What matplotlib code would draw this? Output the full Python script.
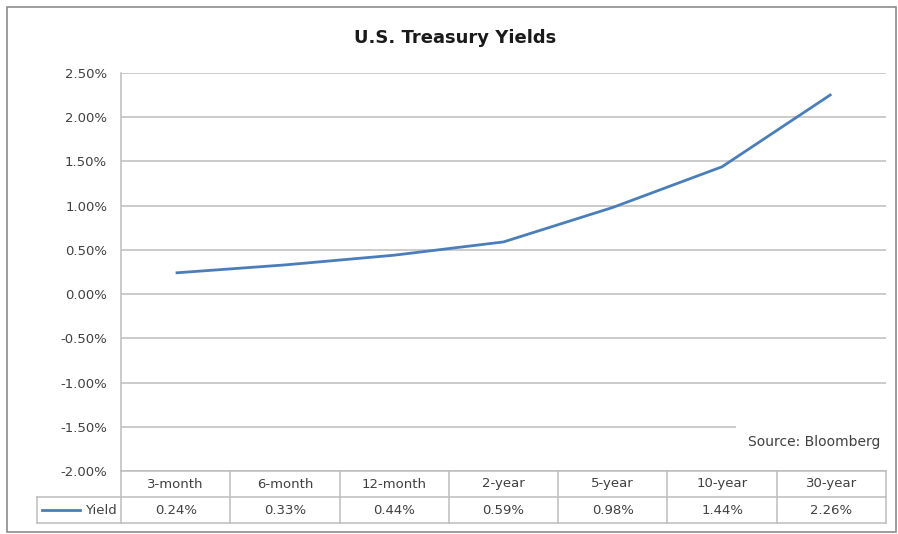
import matplotlib
matplotlib.use("Agg")
import matplotlib.pyplot as plt
from matplotlib.patches import Rectangle
from matplotlib.lines import Line2D

categories = ["3-month", "6-month", "12-month", "2-year", "5-year", "10-year", "30-year"]
yields = [0.24, 0.33, 0.44, 0.59, 0.98, 1.44, 2.26]
yticks = [-2.0, -1.5, -1.0, -0.5, 0.0, 0.5, 1.0, 1.5, 2.0, 2.5]
series_name = "Yield"
title = "U.S. Treasury Yields"
source = "Source: Bloomberg"

plt.rcParams['font.family'] = ['DejaVu Sans']
W, H = 898, 534
fig = plt.figure(figsize=(W / 100, H / 100), dpi=100)

def fx(px):
    return px / W

def fy(py):
    return 1 - py / H

# outer border
fig.add_artist(Rectangle((fx(7), fy(532)), fx(889), 525 / H, transform=fig.transFigure,
                         fill=False, edgecolor="#8c8c8c", linewidth=1.2))

left, right, top, bottom = 121, 886, 73, 471
ax = fig.add_axes([fx(left), fy(bottom), fx(right - left), (bottom - top) / H])
ax.set_xlim(-0.5, len(categories) - 0.5)
ax.set_ylim(-2.0, 2.5)
line_color = "#4a7ebb"
grid_color = "#bdbdbd"
text_color = "#404040"
fs = 9.5

x = list(range(len(categories)))
ax.plot(x, yields, color=line_color, linewidth=2.0, solid_capstyle="butt", zorder=3)

ax.set_yticks(yticks)
ax.set_yticklabels([f"{v:.2f}%" for v in yticks], fontsize=fs, color=text_color)
ax.tick_params(axis="y", length=0, pad=10)
ax.set_xticks([])
ax.grid(axis="y", color=grid_color, linewidth=1.1)
ax.set_axisbelow(True)
for s in ["top", "right", "bottom"]:
    ax.spines[s].set_visible(False)
ax.spines["left"].set_color(grid_color)
ax.spines["left"].set_linewidth(1.1)

# source text with white box covering grid
ax.text(0.993, 0.073, source, transform=ax.transAxes, ha="right", va="center",
        fontsize=10, color=text_color, zorder=5,
        bbox=dict(boxstyle="square,pad=0.9", facecolor="white", edgecolor="none"))

# data table below axes
trans = ax.get_xaxis_transform()
axh = bottom - top
row_h = 26 / axh
unit = (right - left) / len(categories)
leg_left = -0.5 - (left - 37) / unit
n = len(categories)
lk = dict(color=grid_color, linewidth=1.1, transform=trans, clip_on=False)
# horizontal lines
ax.add_line(Line2D([-0.5, n - 0.5], [0, 0], **lk))
ax.add_line(Line2D([leg_left, n - 0.5], [-row_h, -row_h], **lk))
ax.add_line(Line2D([leg_left, n - 0.5], [-2 * row_h, -2 * row_h], **lk))
# vertical lines
for b in range(n + 1):
    ax.add_line(Line2D([b - 0.5, b - 0.5], [0, -2 * row_h], **lk))
ax.add_line(Line2D([leg_left, leg_left], [-row_h, -2 * row_h], **lk))

for i, (c, v) in enumerate(zip(categories, yields)):
    ax.text(i, -0.5 * row_h, c, transform=trans, ha="center", va="center",
            fontsize=fs, color=text_color, clip_on=False)
    ax.text(i, -1.5 * row_h, f"{v:.2f}%", transform=trans, ha="center", va="center",
            fontsize=fs, color=text_color, clip_on=False)

# legend key in table
ax.add_line(Line2D([leg_left + 5 / unit, leg_left + 43 / unit], [-1.5 * row_h, -1.5 * row_h],
                   color=line_color, linewidth=2.0, transform=trans, clip_on=False))
ax.text(-0.5 - 4 / unit, -1.5 * row_h, series_name, transform=trans, ha="right", va="center",
        fontsize=fs, color=text_color, clip_on=False)

fig.text(fx(455), fy(38), title, ha="center", va="center", fontsize=13,
         fontweight="bold", color="#1a1a1a")

fig.savefig("out.png", dpi=100, facecolor="white")
